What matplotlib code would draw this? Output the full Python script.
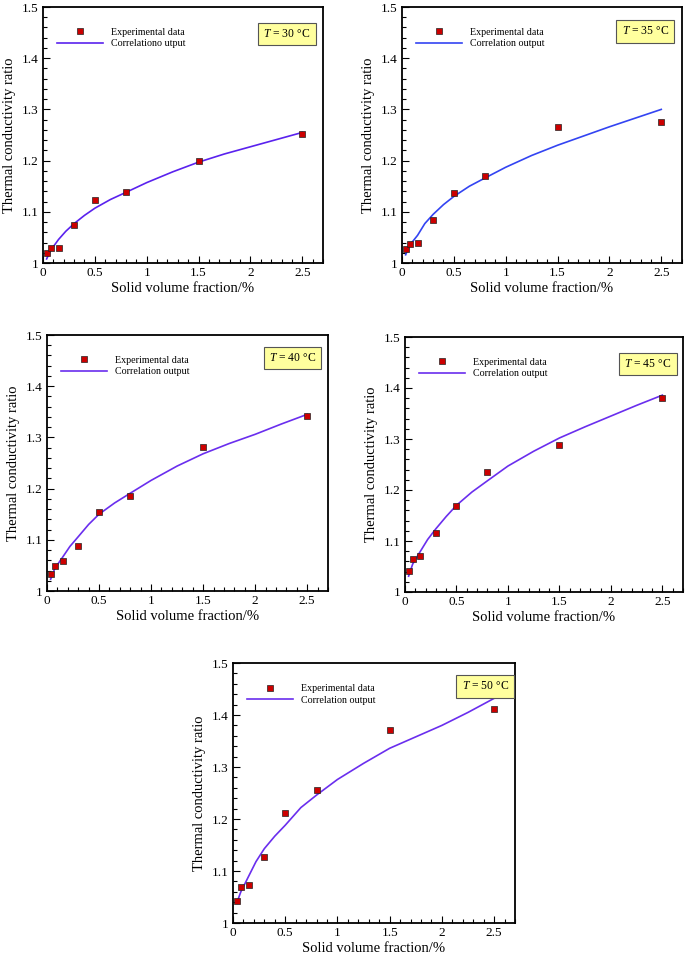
import matplotlib
matplotlib.use("Agg")
import matplotlib.pyplot as plt
from matplotlib.ticker import MultipleLocator, FormatStrFormatter

plt.rcParams['font.family'] = ['Liberation Serif', 'DejaVu Serif']
plt.rcParams['mathtext.fontset'] = 'custom'
plt.rcParams['mathtext.it'] = 'Liberation Serif:italic'
plt.rcParams['mathtext.rm'] = 'Liberation Serif'

# ---- data ----
phi_exp = [0.035, 0.075, 0.15, 0.3, 0.5, 0.8, 1.5, 2.5]
phi_fit = [0.035, 0.075, 0.15, 0.22, 0.3, 0.4, 0.5, 0.65, 0.8, 1.0,
           1.25, 1.5, 1.75, 2.0, 2.25, 2.5]

temps = ["30", "35", "40", "45", "50"]

exp_30 = [1.019, 1.029, 1.029, 1.074, 1.123, 1.139, 1.200, 1.251]
exp_35 = [1.027, 1.037, 1.039, 1.084, 1.137, 1.169, 1.266, 1.276]
exp_40 = [1.033, 1.048, 1.058, 1.087, 1.155, 1.186, 1.282, 1.342]
exp_45 = [1.042, 1.064, 1.071, 1.115, 1.168, 1.236, 1.288, 1.380]
exp_50 = [1.043, 1.069, 1.073, 1.126, 1.211, 1.256, 1.372, 1.411]

fit_30 = [1.008, 1.025, 1.046, 1.062, 1.077, 1.093, 1.107, 1.124, 1.138, 1.157,
          1.178, 1.197, 1.213, 1.227, 1.241, 1.255]
fit_35 = [1.016, 1.035, 1.054, 1.077, 1.095, 1.114, 1.130, 1.150, 1.166, 1.187,
          1.210, 1.230, 1.248, 1.266, 1.283, 1.300]
fit_40 = [1.023, 1.044, 1.066, 1.087, 1.106, 1.130, 1.150, 1.172, 1.191, 1.216,
          1.244, 1.268, 1.288, 1.306, 1.326, 1.345]
fit_45 = [1.031, 1.055, 1.080, 1.103, 1.124, 1.148, 1.170, 1.196, 1.218, 1.247,
          1.276, 1.302, 1.324, 1.345, 1.366, 1.386]
fit_50 = [1.038, 1.060, 1.090, 1.118, 1.143, 1.167, 1.188, 1.222, 1.246, 1.276,
          1.307, 1.336, 1.358, 1.380, 1.405, 1.432]

exp_sets = [exp_30, exp_35, exp_40, exp_45, exp_50]
fit_sets = [fit_30, fit_35, fit_40, fit_45, fit_50]
fit_labels = ["Correlationo utput", "Correlation output", "Correlation output",
              "Correlation output", "Correlation output"]
exp_label = "Experimental data"
x_label = "Solid volume fraction/%"
y_label = "Thermal conductivity ratio"

# ---- layout / style ----
W, H = 685, 959
boxes_px = [(43, 7, 323, 263), (402, 7, 682, 263), (47, 335, 328, 591),
            (405, 337, 683, 592), (233, 663, 515, 923)]
line_colors = ['#5a22ee', '#3344f2', '#6a2eee', '#6a2eee', '#6a2eee']
tbox_pos = [(0.955, 0.895), (0.953, 0.905), (0.958, 0.91), (0.958, 0.895), (0.978, 0.91)]

fig = plt.figure(figsize=(W / 100, H / 100), dpi=100)

for i in range(5):
    l, t, r, b = boxes_px[i]
    ax = fig.add_axes([l / W, 1 - b / H, (r - l) / W, (b - t) / H])
    ax.plot(phi_fit, fit_sets[i], color=line_colors[i], lw=1.2, label=fit_labels[i],
            zorder=2, solid_joinstyle='round')
    ax.plot(phi_exp, exp_sets[i], ls='none', marker='s', ms=3.8, mfc='#cc0000',
            mec='#222222', mew=0.5, label=exp_label, zorder=3)
    ax.set_xlim(0, 2.7)
    ax.set_ylim(1, 1.5)
    ax.xaxis.set_major_locator(MultipleLocator(0.5))
    ax.xaxis.set_minor_locator(MultipleLocator(0.1))
    ax.yaxis.set_major_locator(MultipleLocator(0.1))
    ax.yaxis.set_minor_locator(MultipleLocator(0.02))
    ax.xaxis.set_major_formatter(FormatStrFormatter('%g'))
    ax.yaxis.set_major_formatter(FormatStrFormatter('%g'))
    ax.tick_params(which='both', direction='in', top=False, right=False, labelsize=9.5,
                   width=0.8, pad=3)
    ax.tick_params(which='major', length=5)
    ax.tick_params(which='minor', length=3)
    for sp in ax.spines.values():
        sp.set_linewidth(1.3)
    ax.set_xlabel(x_label, fontsize=10.5, labelpad=2)
    ax.set_ylabel(y_label, fontsize=10.5, labelpad=4)

    handles, labels = ax.get_legend_handles_labels()
    ax.legend(handles[::-1], labels[::-1], loc='upper left', bbox_to_anchor=(0.05, 0.918),
              frameon=False, fontsize=7.2, handlelength=4.6, handletextpad=0.8,
              labelspacing=0.25, borderpad=0, borderaxespad=0)

    ax.text(tbox_pos[i][0], tbox_pos[i][1], "$T$ = " + temps[i] + " °C",
            transform=ax.transAxes, ha='right', va='center', fontsize=8.4, zorder=5,
            bbox=dict(boxstyle='square,pad=0.45', fc='#ffff9e', ec='#555555', lw=0.8))

fig.savefig("out.png", dpi=100)
